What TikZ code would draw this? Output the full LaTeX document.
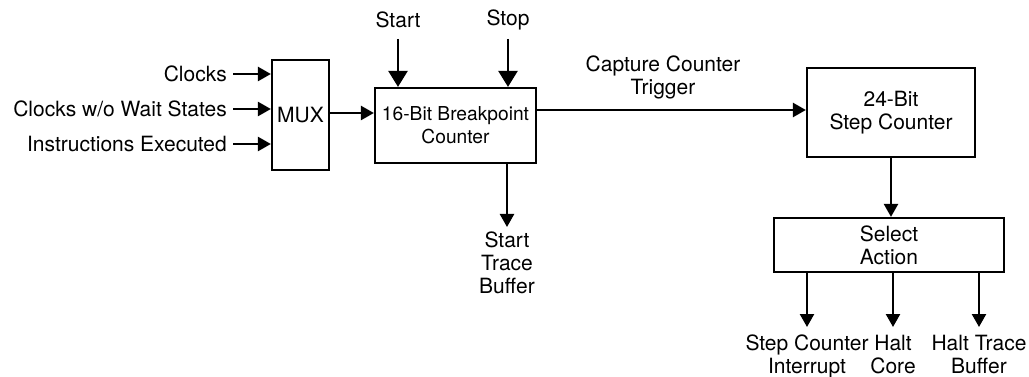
\documentclass[tikz,border=0pt]{standalone}
\usepackage{fontspec}
\setmainfont{TeX Gyre Heros}
\usetikzlibrary{arrows.meta}
\begin{document}
\begin{tikzpicture}[x=1pt,y=-1pt,
  font=\fontsize{21}{23}\selectfont,
  box/.style={draw, line width=2.2pt, inner sep=0pt, align=center},
  txt/.style={inner sep=0pt, align=center},
  arr/.style={line width=2.4pt, -{Triangle[length=13pt,width=14pt]}},
  bigarr/.style={line width=2.6pt, -{Triangle[length=16pt,width=19pt]}}]
\useasboundingbox (0,0) rectangle (1029,377);
% boxes
\node[box, minimum width=57pt, minimum height=110pt] (mux) at (300.5,115) {MUX};
\node[box, minimum width=161pt, minimum height=75pt, font=\fontsize{19.2}{23}\selectfont] (bp) at (455.5,125.5) {16-Bit Breakpoint\\Counter};
\node[box, minimum width=168pt, minimum height=89pt] (step) at (891,112.5) {24-Bit\\Step Counter};
\node[box, minimum width=230pt, minimum height=54pt] (sel) at (889,245) {Select\\Action};
% input labels
\node[txt, anchor=east] (clk) at (227,74) {Clocks};
\node[txt, anchor=east] (clkw) at (227,109) {Clocks w/o Wait States};
\node[txt, anchor=east] (ins) at (227,144) {Instructions Executed};
\draw[arr] ([xshift=6pt]clk.east) -- (clk.east -| mux.west);
\draw[arr] ([xshift=6pt]clkw.east) -- (clkw.east -| mux.west);
\draw[arr] ([xshift=6pt]ins.east) -- (ins.east -| mux.west);
% mux to breakpoint counter
\draw[arr] ([yshift=2pt]mux.east) -- ([yshift=2pt]mux.east -| bp.west);
% start / stop
\node[txt] (start) at (398,20) {Start};
\node[txt] (stop) at (508,20) {Stop};
\draw[bigarr] ([yshift=-19pt]start.center) -- (start.center |- bp.north);
\draw[bigarr] ([yshift=-19pt]stop.center) -- (stop.center |- bp.north);
% start trace buffer
\node[txt, anchor=north] (stb) at (507,232) {Start\\Trace\\Buffer};
\draw[arr] (stb.north |- bp.south) -- ([yshift=5pt]stb.north);
% capture counter trigger
\node[txt] (cap) at (663,77) {Capture Counter\\Trigger};
\draw[arr] ([yshift=15.5pt]bp.east) -- ([yshift=15.5pt]bp.east -| step.west);
% step to select
\draw[arr] (step.south) -- (step.south |- sel.north);
% outputs
\node[txt, anchor=north] (sci) at (807,335) {Step Counter\\Interrupt};
\node[txt, anchor=north] (hc) at (893,335) {Halt\\Core};
\node[txt, anchor=north] (htb) at (979,335) {Halt Trace\\Buffer};
\draw[arr] (sci.north |- sel.south) -- ([yshift=8pt]sci.north);
\draw[arr] (hc.north |- sel.south) -- ([yshift=8pt]hc.north);
\draw[arr] (htb.north |- sel.south) -- ([yshift=8pt]htb.north);
\end{tikzpicture}
\end{document}
